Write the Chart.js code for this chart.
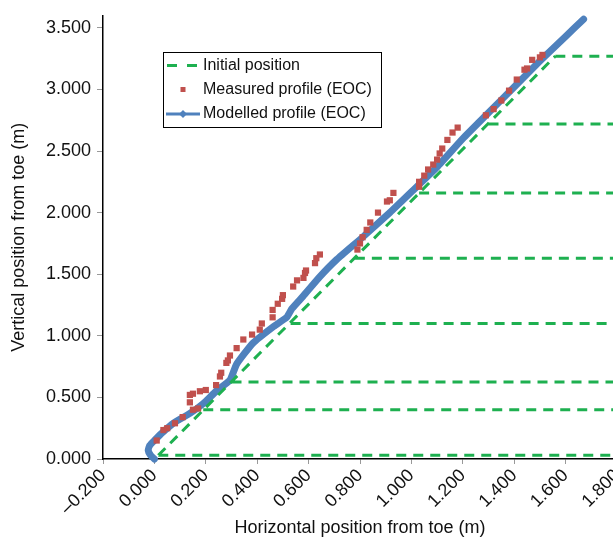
<!DOCTYPE html>
<html><head><meta charset="utf-8">
<script src="https://cdn.jsdelivr.net/npm/chart.js@4.4.1/dist/chart.umd.min.js"></script>
<style>
html,body{margin:0;padding:0;background:#fff;overflow:hidden;width:613px;height:539px}
#wrap{position:absolute;left:0;top:0;width:640px;height:539px}
</style>
</head><body><div id="wrap"><canvas id="c" width="640" height="539"></canvas></div>
<script>
// ---- data ----
const seriesNames = ['Initial position', 'Measured profile (EOC)', 'Modelled profile (EOC)'];

// Initial position: slope line + horizontal layer lines
const slopeX = [0.015, 1.56];
const slopeY = [0.03, 3.27];
const layerLevels = [0.03, 0.40, 0.625, 1.10, 1.63, 2.16, 2.72, 3.27];
const layerStartX = [0.015, 0.19, 0.30, 0.53, 0.78, 1.03, 1.30, 1.56];
const layerEndX = 2.0;

// Measured profile (EOC)
const measuredX = [0.009,0.035,0.050,0.080,0.110,0.150,0.170,0.138,0.138,0.150,0.177,0.200,0.240,0.255,0.260,0.280,0.286,0.294,0.320,0.346,0.380,0.410,0.418,0.460,0.460,0.480,0.497,0.500,0.540,0.555,0.580,0.586,0.590,0.625,0.630,0.644,0.790,0.800,0.810,0.826,0.840,0.870,0.905,0.916,0.930,1.030,1.030,1.050,1.065,1.085,1.100,1.110,1.120,1.140,1.160,1.180,1.290,1.320,1.350,1.380,1.410,1.440,1.450,1.470,1.500,1.510];
const measuredY = [0.15,0.235,0.25,0.29,0.34,0.40,0.41,0.46,0.52,0.53,0.55,0.56,0.60,0.67,0.70,0.78,0.80,0.84,0.90,0.97,1.01,1.05,1.10,1.15,1.21,1.26,1.30,1.33,1.40,1.45,1.47,1.51,1.53,1.59,1.63,1.66,1.70,1.75,1.80,1.86,1.92,2.00,2.09,2.10,2.16,2.21,2.25,2.30,2.35,2.39,2.43,2.48,2.52,2.59,2.65,2.69,2.79,2.84,2.91,2.99,3.08,3.16,3.17,3.24,3.26,3.28];

// Modelled profile (EOC)
const modelX = [0.000,-0.015,-0.024,-0.018,0.000,0.034,0.073,0.138,0.190,0.240,0.294,0.320,0.383,0.460,0.515,0.535,0.578,0.644,0.710,0.810,0.916,1.006,1.100,1.200,1.300,1.400,1.500,1.600,1.670];
const modelY = [0.000,0.030,0.070,0.110,0.150,0.220,0.290,0.370,0.450,0.550,0.640,0.770,0.940,1.070,1.150,1.220,1.320,1.480,1.620,1.800,2.000,2.180,2.370,2.600,2.810,3.020,3.230,3.430,3.570];

// ticks
const xTickValues = [-0.2,0,0.2,0.4,0.6,0.8,1.0,1.2,1.4,1.6,1.8];
const xTickLabels = ['\u20130.200','0.000','0.200','0.400','0.600','0.800','1.000','1.200','1.400','1.600','1.800'];
const yTickValues = [0,0.5,1.0,1.5,2.0,2.5,3.0,3.5];
const yTickLabels = ['0.000','0.500','1.000','1.500','2.000','2.500','3.000','3.500'];
const xTitle = 'Horizontal position from toe (m)';
const yTitle = 'Vertical position from toe (m)';

// ---- build ----
const initialData = [];
for (let i = 0; i < slopeX.length; i++) initialData.push({x: slopeX[i], y: slopeY[i]});
for (let i = 0; i < layerLevels.length; i++) {
  initialData.push({x: null, y: null});
  initialData.push({x: layerStartX[i], y: layerLevels[i]});
  initialData.push({x: layerEndX, y: layerLevels[i]});
}
const measuredData = measuredX.map((x, i) => ({x, y: measuredY[i]}));
const modelData = modelX.map((x, i) => ({x, y: modelY[i]}));

const GREEN = '#1EB050', RED = '#C0504D', BLUE = '#4F81BD';
const FONT = '"Liberation Sans", Arial, sans-serif';

const legendPlugin = {
  id: 'boxLegend',
  afterDraw(chart) {
    const ctx = chart.ctx;
    ctx.save();
    ctx.fillStyle = '#fff';
    ctx.fillRect(163.5, 52.5, 218, 75);
    ctx.strokeStyle = '#000';
    ctx.lineWidth = 1;
    ctx.strokeRect(163.5, 52.5, 218, 75);
    ctx.font = '16px ' + FONT;
    ctx.textBaseline = 'middle';
    ctx.textAlign = 'left';
    const rows = [65.5, 89.5, 114];
    ctx.strokeStyle = GREEN; ctx.lineWidth = 3; ctx.setLineDash([10, 10]);
    ctx.beginPath(); ctx.moveTo(167, rows[0]); ctx.lineTo(198, rows[0]); ctx.stroke();
    ctx.setLineDash([]);
    ctx.fillStyle = RED; ctx.fillRect(180.5, rows[1] - 2.5, 5, 5);
    ctx.strokeStyle = BLUE; ctx.lineWidth = 3;
    ctx.beginPath(); ctx.moveTo(166, rows[2]); ctx.lineTo(200, rows[2]); ctx.stroke();
    ctx.fillStyle = BLUE;
    ctx.beginPath(); ctx.moveTo(183, rows[2] - 4); ctx.lineTo(187, rows[2]); ctx.lineTo(183, rows[2] + 4); ctx.lineTo(179, rows[2]); ctx.closePath(); ctx.fill();
    ctx.fillStyle = '#111';
    seriesNames.forEach((n, i) => ctx.fillText(n, 203, rows[i]));
    ctx.restore();
  }
};

new Chart(document.getElementById('c'), {
  type: 'scatter',
  data: {
    datasets: [
      {label: seriesNames[0], data: initialData, showLine: true, spanGaps: false,
       borderColor: GREEN, borderWidth: 3, borderDash: [10, 7], pointRadius: 0, order: 1, clip: false},
      {label: seriesNames[1], data: measuredData, showLine: false,
       pointStyle: 'rect', pointRadius: 4.4, backgroundColor: RED, borderWidth: 0, order: 0, clip: false},
      {label: seriesNames[2], data: modelData, showLine: true,
       borderColor: BLUE, borderWidth: 7, pointRadius: 0, tension: 0.15, order: 2, clip: false,
       borderCapStyle: 'round', borderJoinStyle: 'round'}
    ]
  },
  options: {
    responsive: false,
    animation: false,
    devicePixelRatio: 1,
    layout: {padding: {left: 8, top: 15.5, right: 23, bottom: 0}},
    plugins: {legend: {display: false}, tooltip: {enabled: false}},
    scales: {
      x: {
        type: 'linear', min: -0.2, max: 1.8,
        afterBuildTicks: s => { s.ticks = xTickValues.map(v => ({value: v})); },
        afterFit: s => { s.height = 80; s.paddingLeft = 0; s.paddingRight = 0; },
        ticks: {autoSkip: false, minRotation: 45, maxRotation: 45, padding: 1,
                color: '#111', font: {family: FONT, size: 18},
                callback: (v, i) => xTickLabels[i]},
        grid: {drawOnChartArea: false, drawTicks: true, tickLength: 5, color: '#999'},
        border: {display: true, color: '#000', width: 1.5},
        title: {display: true, text: xTitle, color: '#111', font: {family: FONT, size: 18}, padding: 0}
      },
      y: {
        type: 'linear', min: 0, max: 3.6,
        afterBuildTicks: s => { s.ticks = yTickValues.map(v => ({value: v})); },
        afterFit: s => { s.width = 95; s.paddingTop = 0; s.paddingBottom = 0; },
        ticks: {padding: 6, color: '#111', font: {family: FONT, size: 18},
                callback: (v, i) => yTickLabels[i]},
        grid: {drawOnChartArea: false, drawTicks: true, tickLength: 6, color: '#999'},
        border: {display: true, color: '#000', width: 1.5},
        title: {display: true, text: yTitle, color: '#111', font: {family: FONT, size: 18}, padding: 0}
      }
    }
  },
  plugins: [legendPlugin]
});
</script>
</body></html>
